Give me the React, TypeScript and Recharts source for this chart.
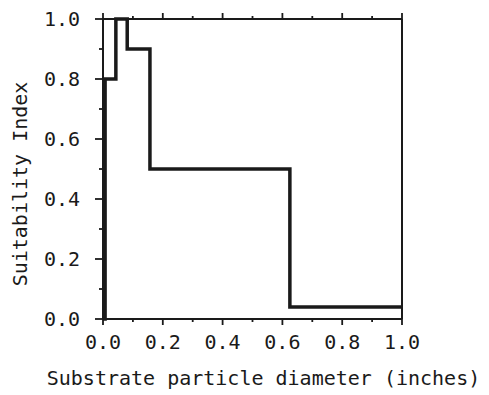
import { LineChart, Line, XAxis, YAxis, Label } from 'recharts'

// step curve: SI holds from each diameter until the next one
const diameters = [0, 0.007, 0.043, 0.081, 0.157, 0.625, 1.0]
const suitability = [0, 0.8, 1.0, 0.9, 0.5, 0.04, 0.04]

const tenthTicks = [0, 0.1, 0.2, 0.3, 0.4, 0.5, 0.6, 0.7, 0.8, 0.9, 1.0]

const xTitle = 'Substrate particle diameter (inches)'
const yTitle = 'Suitability Index'

const data = diameters.map((d, i) => ({ d, si: suitability[i] }))

const FONT = '"DejaVu Sans Mono", "Liberation Mono", monospace'
const INK = '#1a1a1a'

const isMajor = (v: number) => Math.round(v * 10) % 2 === 0

type Side = 'bottom' | 'top' | 'left' | 'right'

// draws its own tick mark (long on even tenths, short on odd) plus the label
function makeTick(side: Side) {
  return function Tick(props: any) {
    const { x, y, payload } = props
    const v = payload.value as number
    const major = isMajor(v)
    const vertical = side === 'top' || side === 'bottom'
    const len = vertical ? (major ? 6 : 3) : major ? 8 : 4
    let line
    if (side === 'bottom') line = <line x1={x} x2={x} y1={y} y2={y + len} />
    else if (side === 'top') line = <line x1={x} x2={x} y1={y} y2={y - len} />
    else if (side === 'left') line = <line x1={x} x2={x - len} y1={y} y2={y} />
    else line = <line x1={x} x2={x + len} y1={y} y2={y} />
    const showText = major && (side === 'bottom' || side === 'left')
    return (
      <g>
        <g stroke={INK} strokeWidth={1.8}>{line}</g>
        {showText && side === 'bottom' && (
          <text x={x} y={y + 30} textAnchor="middle" fill={INK} stroke="none" fontFamily={FONT} fontSize={20}>
            {v.toFixed(1)}
          </text>
        )}
        {showText && side === 'left' && (
          <text x={x - 23} y={y} dy="0.36em" textAnchor="end" fill={INK} stroke="none" fontFamily={FONT} fontSize={20}>
            {v.toFixed(1)}
          </text>
        )}
      </g>
    )
  }
}

export default function App() {
  return (
    <div style={{ position: 'absolute', left: 0, top: 0, background: '#fff' }}>
      <LineChart width={489} height={395} data={data} margin={{ top: 18, right: 86, bottom: 0, left: 0 }}>
        <XAxis
          dataKey="d"
          type="number"
          domain={[0, 1]}
          ticks={tenthTicks}
          interval={0}
          height={76}
          tickSize={0}
          tickMargin={0}
          axisLine={{ stroke: INK, strokeWidth: 2 }}
          tick={makeTick('bottom')}
        >
          <Label
            content={({ viewBox }: any) => (
              <text
                x={viewBox.x + viewBox.width / 2 + 11}
                y={viewBox.y + 66}
                textAnchor="middle"
                fill={INK}
                fontFamily={FONT}
                fontSize={20}
              >
                {xTitle}
              </text>
            )}
          />
        </XAxis>
        <XAxis
          xAxisId="top"
          dataKey="d"
          orientation="top"
          type="number"
          domain={[0, 1]}
          ticks={tenthTicks}
          interval={0}
          height={1}
          tickSize={0}
          tickMargin={0}
          axisLine={{ stroke: INK, strokeWidth: 2 }}
          tick={makeTick('top')}
        />
        <YAxis
          type="number"
          domain={[0, 1]}
          ticks={tenthTicks}
          interval={0}
          width={103}
          tickSize={0}
          tickMargin={0}
          axisLine={{ stroke: INK, strokeWidth: 2 }}
          tick={makeTick('left')}
        >
          <Label
            content={({ viewBox }: any) => {
              const cx = viewBox.x + 20
              const cy = viewBox.y + viewBox.height / 2 + 15
              return (
                <text
                  x={cx}
                  y={cy}
                  dy="0.36em"
                  transform={`rotate(-90 ${cx} ${cy})`}
                  textAnchor="middle"
                  fill={INK}
                  fontFamily={FONT}
                  fontSize={20}
                >
                  {yTitle}
                </text>
              )
            }}
          />
        </YAxis>
        <YAxis
          yAxisId="right"
          orientation="right"
          type="number"
          domain={[0, 1]}
          ticks={tenthTicks}
          interval={0}
          width={1}
          tickSize={0}
          tickMargin={0}
          axisLine={{ stroke: INK, strokeWidth: 2 }}
          tick={makeTick('right')}
        />
        <Line
          dataKey="si"
          type="stepAfter"
          stroke={INK}
          strokeWidth={3.5}
          dot={false}
          activeDot={false}
          isAnimationActive={false}
        />
      </LineChart>
    </div>
  )
}
